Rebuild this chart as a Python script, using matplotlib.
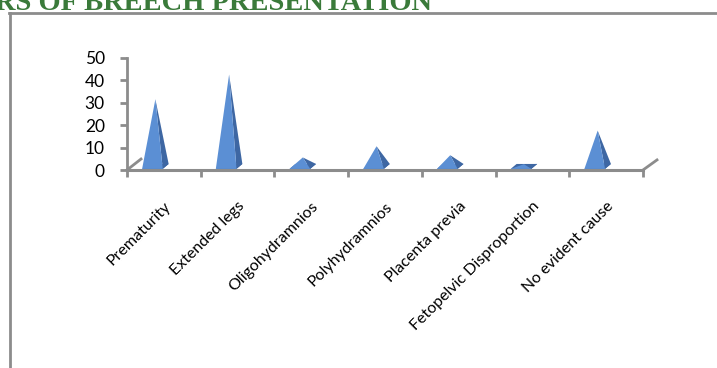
import matplotlib
matplotlib.use('Agg')
import matplotlib.pyplot as plt
from matplotlib.lines import Line2D

# Factors of breech presentation #
causes = ['Prematurity', 'Extended legs', 'Oligohydramnios', 'Polyhydramnios',
          'Placenta previa', 'Fetopelvic Disproportion', 'No evident cause']
counts = [30, 41, 4, 9, 5, 1, 16]
yticks = [0, 10, 20, 30, 40, 50]

plt.rcParams['font.family'] = ['Lato', 'DejaVu Sans']

fig = plt.figure(figsize=(7.17, 3.68), dpi=100)
ax = fig.add_axes([127/717, 198/368, 516/717, 112/368])

gray = '#8c8c8c'
front_col = '#5b8fd4'
side_col = '#3e67a3'

# pyramid shape (category units / value units)
shift = -0.155
half = 0.14
dx, dy = 0.08, 2.2
base = 0.5

for i, v in enumerate(counts):
    c = i + shift
    fl = (c - half, base)
    fr = (c + half, base)
    br = (c + half + dx, base + dy)
    bl = (c - half + dx, base + dy)
    apex = (c + dx / 2, base + dy / 2 + v)
    ax.fill([fl[0], fr[0], br[0], bl[0]], [fl[1], fr[1], br[1], bl[1]],
            color=side_col, lw=0, zorder=3)
    ax.fill([fr[0], br[0], apex[0]], [fr[1], br[1], apex[1]],
            color=side_col, lw=0, zorder=4)
    ax.fill([fl[0], fr[0], apex[0]], [fl[1], fr[1], apex[1]],
            color=front_col, lw=0, zorder=5)

ax.set_xlim(-0.5, len(causes) - 0.5)
ax.set_ylim(0, 50)

# floor edges
ax.plot([-0.5, -0.31], [0, 4.9], color=gray, lw=2, clip_on=False, zorder=2)
ax.plot([len(causes) - 0.5, len(causes) - 0.31], [0, 4.5], color=gray, lw=2,
        clip_on=False, zorder=2)

for s in ['top', 'right']:
    ax.spines[s].set_visible(False)
ax.spines['left'].set_color(gray)
ax.spines['left'].set_linewidth(2)
ax.spines['bottom'].set_color(gray)
ax.spines['bottom'].set_linewidth(2.2)

ax.set_yticks(yticks)
ax.tick_params(axis='y', length=5, width=2, color=gray, pad=11, labelsize=12.5)
ax.set_xticks(range(len(causes)))
ax.set_xticks([i - 0.5 for i in range(len(causes) + 1)], minor=True)
ax.tick_params(axis='x', which='major', length=0, pad=21, labelsize=11.5)
ax.tick_params(axis='x', which='minor', length=5, width=2, color=gray)
ax.set_xticklabels(causes, rotation=45, ha='right', va='top', rotation_mode='anchor')

# outer frame and clipped title
fig.add_artist(Line2D([9/717, 1], [1 - 13/368, 1 - 13/368], color=gray, lw=2))
fig.add_artist(Line2D([10/717, 10/717], [0, 1 - 13/368], color=gray, lw=2))
fig.text(432/717, 1 - 10/368, 'RS OF BREECH PRESENTATION', ha='right', va='baseline',
         fontsize=20.5, fontweight='bold', color='#3a7a3a', family='Liberation Serif')

fig.savefig('out.png', dpi=100)
